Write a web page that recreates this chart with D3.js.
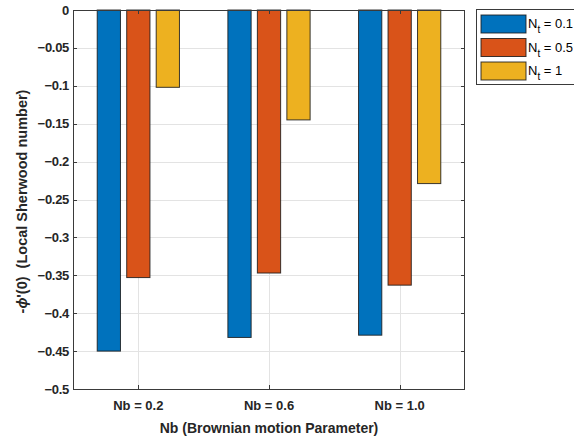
<!DOCTYPE html>
<html>
<head>
<meta charset="utf-8">
<script src="https://cdn.jsdelivr.net/npm/d3@7"></script>
<style>
  html, body { margin: 0; padding: 0; background: #fff; overflow: hidden; }
  svg { display: block; font-family: "Liberation Sans", Arial, sans-serif; }
</style>
</head>
<body>
<svg id="chart" width="574" height="440"></svg>
<script>
// Categories (Brownian motion parameter) and the three thermophoresis series
const categories = ["Nb = 0.2", "Nb = 0.6", "Nb = 1.0"];
const seriesNames = ["0.1", "0.5", "1"];
const nt01 = [-0.450, -0.432, -0.429];
const nt05 = [-0.353, -0.347, -0.363];
const nt1  = [-0.102, -0.145, -0.229];
const yTicks = [0, -0.05, -0.1, -0.15, -0.2, -0.25, -0.3, -0.35, -0.4, -0.45, -0.5];
const colors = ["#0072BD", "#D95319", "#EDB120"];

const series = [nt01, nt05, nt1];

const svg = d3.select("#chart");
const plot = { left: 73, right: 465, top: 10, bottom: 389 };

// x: category index in data units, limits [0.5, 3.5]
const x = d3.scaleLinear().domain([0.5, categories.length + 0.5]).range([plot.left, plot.right]);
const y = d3.scaleLinear().domain([-0.5, 0]).range([plot.bottom, plot.top]);

const groupStep = 0.2257;   // offset between bars in a group (data units)
const barWidth = 0.178;     // bar width (data units)

// grid lines
const grid = svg.append("g").attr("stroke", "#e3e3e3").attr("stroke-width", 1);
yTicks.forEach(t => {
  grid.append("line")
    .attr("x1", plot.left).attr("x2", plot.right)
    .attr("y1", Math.round(y(t)) + 0.5).attr("y2", Math.round(y(t)) + 0.5);
});
categories.forEach((c, i) => {
  grid.append("line")
    .attr("x1", Math.round(x(i + 1)) + 0.5).attr("x2", Math.round(x(i + 1)) + 0.5)
    .attr("y1", plot.top).attr("y2", plot.bottom);
});

// bars
const bars = svg.append("g");
series.forEach((vals, s) => {
  vals.forEach((v, i) => {
    const cx = i + 1 + (s - 1) * groupStep;
    const x0 = x(cx - barWidth / 2), x1 = x(cx + barWidth / 2);
    bars.append("rect")
      .attr("x", x0).attr("width", x1 - x0)
      .attr("y", y(0)).attr("height", y(v) - y(0))
      .attr("fill", colors[s])
      .attr("stroke", "#1a1a1a").attr("stroke-opacity", 0.85).attr("stroke-width", 1);
  });
});

// axes box
const axisColor = "#3a3a3a";
svg.append("rect")
  .attr("x", plot.left + 0.5).attr("y", plot.top + 0.5)
  .attr("width", plot.right - plot.left - 1).attr("height", plot.bottom - plot.top)
  .attr("fill", "none").attr("stroke", axisColor).attr("stroke-width", 1);

// ticks (inward, on all four sides)
const tl = 4;
const ticks = svg.append("g").attr("stroke", axisColor).attr("stroke-width", 1);
yTicks.forEach(t => {
  const yy = Math.round(y(t)) + 0.5;
  ticks.append("line").attr("x1", plot.left).attr("x2", plot.left + tl).attr("y1", yy).attr("y2", yy);
  ticks.append("line").attr("x1", plot.right).attr("x2", plot.right - tl).attr("y1", yy).attr("y2", yy);
});
categories.forEach((c, i) => {
  const xx = Math.round(x(i + 1)) + 0.5;
  ticks.append("line").attr("x1", xx).attr("x2", xx).attr("y1", plot.bottom).attr("y2", plot.bottom - tl);
  ticks.append("line").attr("x1", xx).attr("x2", xx).attr("y1", plot.top).attr("y2", plot.top + tl);
});

// y tick labels
const fmt = t => t === 0 ? "0" : "\u2212" + d3.format("")(Math.abs(t));
svg.append("g").selectAll("text").data(yTicks).join("text")
  .attr("x", 69).attr("y", d => y(d) + 4.5)
  .attr("text-anchor", "end")
  .attr("font-size", 13).attr("font-weight", "bold").attr("fill", "#262626")
  .attr("letter-spacing", "-0.3")
  .text(fmt);

// x tick labels
svg.append("g").selectAll("text").data(categories).join("text")
  .attr("x", (d, i) => x(i + 1)).attr("y", 410)
  .attr("text-anchor", "middle")
  .attr("font-size", 13).attr("font-weight", "bold").attr("fill", "#262626")
  .text(d => d);

// axis titles
svg.append("text")
  .attr("x", (plot.left + plot.right) / 2).attr("y", 433)
  .attr("text-anchor", "middle")
  .attr("font-size", 14).attr("font-weight", "bold").attr("fill", "#262626")
  .text("Nb (Brownian motion Parameter)");

const yTitle = svg.append("text")
  .attr("transform", `translate(27,${(plot.top + plot.bottom) / 2 + 2}) rotate(-90)`)
  .attr("text-anchor", "middle")
  .style("white-space", "pre")
  .attr("font-size", 14.5).attr("font-weight", "bold").attr("fill", "#262626");
yTitle.append("tspan").text("-");
yTitle.append("tspan").attr("font-style", "italic").text("\u03D5");
yTitle.append("tspan").text("'(0)\u00A0\u00A0(Local Sherwood number)");

// legend
const lg = svg.append("g");
lg.append("rect")
  .attr("x", 476.5).attr("y", 9.5).attr("width", 120).attr("height", 75)
  .attr("fill", "#fff").attr("stroke", axisColor).attr("stroke-width", 1);
seriesNames.forEach((n, s) => {
  const yy = 15 + s * 23.5;
  lg.append("rect")
    .attr("x", 481).attr("y", yy).attr("width", 45).attr("height", 18)
    .attr("fill", colors[s]).attr("stroke", "#1a1a1a").attr("stroke-opacity", 0.85);
  const t = lg.append("text")
    .attr("x", 528).attr("y", yy + 13)
    .attr("font-size", 13).attr("fill", "#000");
  t.append("tspan").text("N");
  t.append("tspan").attr("font-size", 10).attr("dy", 5).text("t");
  t.append("tspan").attr("dy", -5).text(" = " + n);
});
</script>
</body>
</html>
